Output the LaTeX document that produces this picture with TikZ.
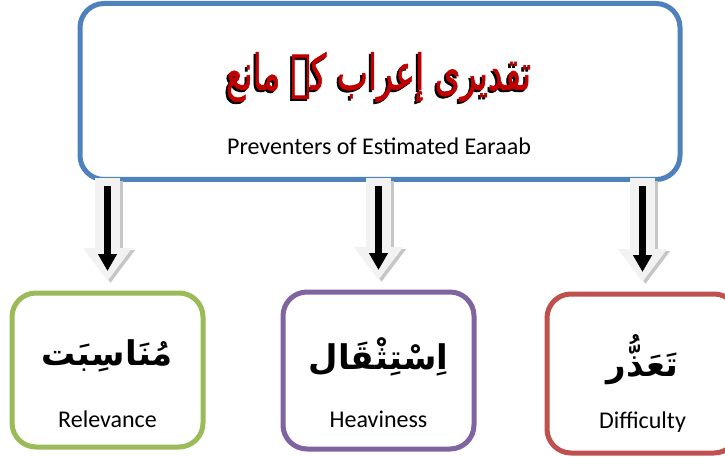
\documentclass[tikz,border=0pt]{standalone}
\usepackage{fontspec}
\setmainfont{Carlito}
\newfontfamily\arabicfont[Script=Arabic]{DejaVu Sans}
\newfontfamily\urdufont[Script=Arabic,FakeBold=1.5]{DejaVu Sans}
\TeXXeTstate=1
\usetikzlibrary{arrows.meta}
\definecolor{boxblue}{HTML}{4F81BD}
\definecolor{boxgreen}{HTML}{9BBB59}
\definecolor{boxpurple}{HTML}{8064A2}
\definecolor{boxred}{HTML}{C0504D}
\definecolor{titlered}{HTML}{C00000}
\newcommand{\titletext}{\scalebox{1}[1.5]{\beginR تقدیری إعراب کے مانع\endR}}
% red title with a black shadow
\newcommand{\shadowtitle}{\makebox[0pt][l]{\hspace{-2pt}\raisebox{-2pt}{\color{black}\titletext}}{\color{titlered}\titletext}}
\begin{document}
\begin{tikzpicture}[x=1pt,y=-1pt,font=\fontsize{24}{27}\selectfont,
		box/.style={draw,line width=5pt,rounded corners=24pt,fill=white,inner sep=0pt,outer sep=0pt,
			minimum width=191pt},
		ar/.style={font=\arabicfont\bfseries\fontsize{34}{40}\selectfont},
		ur/.style={font=\urdufont\fontsize{33}{38}\selectfont}]
				\useasboundingbox (0,0) rectangle (725,457);
				\node[box,draw=boxblue,minimum width=600pt,minimum height=176pt] (top) at (380,91.5) {};
				\node[ur] (urdu) at (378.5,78) {\shadowtitle};
				\node (eng) at (379,146) {Preventers of Estimated Earaab};
				\foreach \n/\x/\y/\h/\c/\t/\e in {rel/107.5/370/154/boxgreen/{مُنَاسِبَت}/Relevance,
					hea/378.5/370.5/157/boxpurple/{اِسْتِثْقَال}/Heaviness,
					dif/642.5/373.5/159/boxred/{تَعَذُّر}/Difficulty}{
					\node[box,draw=\c,minimum height=\h pt] (\n) at (\x,\y) {};
					\node[ar] (\n ar) at (\x,\y-14) {\beginR\t\endR};
					\node (\n en) at (\x,\y+49) {\e};
					% block arrow from the top box
					\draw[gray!45,line width=25pt,-{Triangle[width=47pt,length=33pt]}]
						([shift={(3,2)}]top.south -| \n.north) -- ([shift={(3,-10)}]\n.north);
					\draw[gray!10,line width=25pt,-{Triangle[width=47pt,length=33pt]}]
						([yshift=1pt]top.south -| \n.north) -- ([yshift=12pt]\n.north);
					\draw[black,line width=6.5pt,-{Triangle[width=18pt,length=17pt]}]
						([yshift=-7pt]top.south -| \n.north) -- ([yshift=22pt]\n.north);
				}
			\end{tikzpicture}
\end{document}
